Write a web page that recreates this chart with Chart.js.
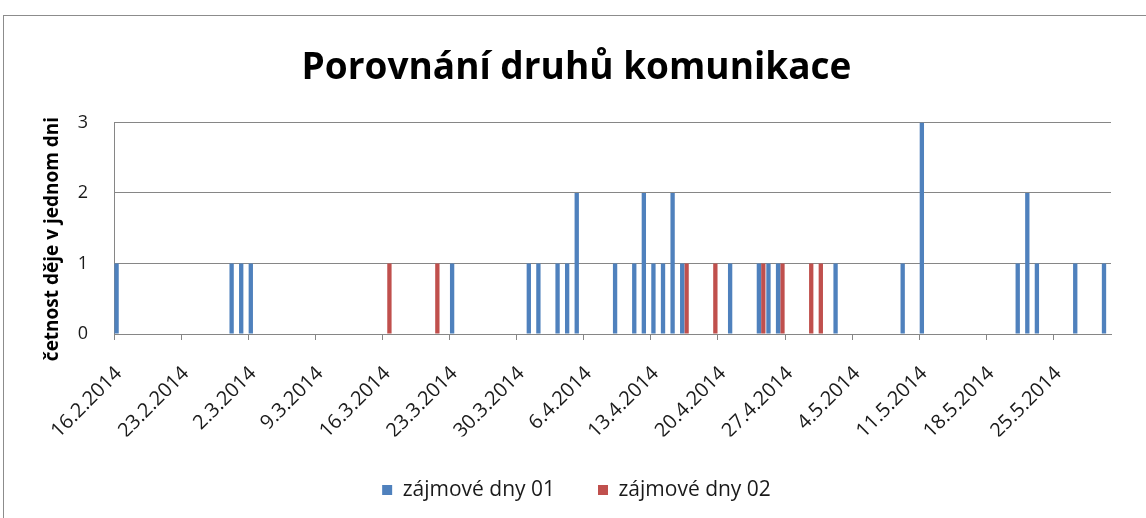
<!DOCTYPE html>
<html>
<head>
<meta charset="utf-8">
<script src="https://cdn.jsdelivr.net/npm/chart.js@4.4.1/dist/chart.umd.min.js"></script>
<style>
  html, body { margin: 0; padding: 0; background: #fff; overflow: hidden; }
  #wrap { position: relative; width: 1146px; height: 518px; }
  #frame { position: absolute; left: 3px; top: 15px; width: 1200px; height: 600px; border: 1px solid #8c8c8c; pointer-events: none; }
  canvas { position: absolute; left: 0; top: 0; }
</style>
</head>
<body>
<div id="wrap">
  <canvas id="graf" width="1146" height="518"></canvas>
  <div id="frame"></div>
</div>
<script>
// dny od 16.2.2014 do 30.5.2014
const dny = [
    '16.2.2014','17.2.2014','18.2.2014','19.2.2014','20.2.2014','21.2.2014','22.2.2014','23.2.2014','24.2.2014','25.2.2014','26.2.2014','27.2.2014','28.2.2014',
    '1.3.2014','2.3.2014','3.3.2014','4.3.2014','5.3.2014','6.3.2014','7.3.2014','8.3.2014','9.3.2014','10.3.2014',
    '11.3.2014','12.3.2014','13.3.2014','14.3.2014','15.3.2014','16.3.2014','17.3.2014','18.3.2014','19.3.2014','20.3.2014',
    '21.3.2014','22.3.2014','23.3.2014','24.3.2014','25.3.2014','26.3.2014','27.3.2014','28.3.2014','29.3.2014','30.3.2014','31.3.2014',
    '1.4.2014','2.4.2014','3.4.2014','4.4.2014','5.4.2014','6.4.2014','7.4.2014','8.4.2014','9.4.2014','10.4.2014',
    '11.4.2014','12.4.2014','13.4.2014','14.4.2014','15.4.2014','16.4.2014','17.4.2014','18.4.2014','19.4.2014','20.4.2014',
    '21.4.2014','22.4.2014','23.4.2014','24.4.2014','25.4.2014','26.4.2014','27.4.2014','28.4.2014','29.4.2014','30.4.2014',
    '1.5.2014','2.5.2014','3.5.2014','4.5.2014','5.5.2014','6.5.2014','7.5.2014','8.5.2014','9.5.2014','10.5.2014',
    '11.5.2014','12.5.2014','13.5.2014','14.5.2014','15.5.2014','16.5.2014','17.5.2014','18.5.2014','19.5.2014','20.5.2014',
    '21.5.2014','22.5.2014','23.5.2014','24.5.2014','25.5.2014','26.5.2014','27.5.2014','28.5.2014','29.5.2014','30.5.2014'
];

// popisky osy x (kazdy tyden)
const popiskyX = ['16.2.2014','23.2.2014','2.3.2014','9.3.2014','16.3.2014','23.3.2014','30.3.2014',
    '6.4.2014','13.4.2014','20.4.2014','27.4.2014','4.5.2014','11.5.2014','18.5.2014','25.5.2014'];

const zajmoveDny01 = [
    1,0,0,0,0,0,0,0,0,0,0,0,1,                       // unor 16-28
    1,1,0,0,0,0,0,0,0,0, 0,0,0,0,0,0,0,0,0,0, 0,0,1,0,0,0,0,0,0,0, 1,   // brezen
    1,0,1,1,2,0,0,0,1,0, 1,2,1,1,2,1,0,0,0,0, 1,0,0,1,1,1,0,0,0,0,      // duben
    0,1,0,0,0,0,0,0,1,0, 3,0,0,0,0,0,0,0,0,0, 1,2,1,0,0,0,1,0,0,1       // kveten
];

const zajmoveDny02 = [
    0,0,0,0,0,0,0,0,0,0,0,0,0,
    0,0,0,0,0,0,0,0,0,0, 0,0,0,0,0,1,0,0,0,0, 1,0,0,0,0,0,0,0,0,0, 0,
    0,0,0,0,0,0,0,0,0,0, 0,0,0,0,0,1,0,0,1,0, 0,0,0,1,0,1,0,0,1,1,
    0,0,0,0,0,0,0,0,0,0, 0,0,0,0,0,0,0,0,0,0, 0,0,0,0,0,0,0,0,0,0
];

const hodnotyY = [0, 1, 2, 3];
const titulekY = 'četnost děje v jednom dni';

const MODRA = '#4F81BD';
const CERVENA = '#C0504D';
const MRIZKA = '#868686';
const PISMO = "'Open Sans', 'DejaVu Sans', sans-serif";

// popisek osy y - v Excelu je posunuty trochu niz nez stred osy
const popisekOsyY = {
    id: 'popisekOsyY',
    afterDraw(chart) {
        const c = chart.ctx;
        c.save();
        c.translate(53, 239);
        c.rotate(-Math.PI / 2);
        c.textAlign = 'center';
        c.textBaseline = 'middle';
        c.fillStyle = '#000';
        c.font = 'bold 19px ' + PISMO;
        c.fillText(titulekY, 0, 0);
        c.restore();
    }
};

const ctx = document.getElementById('graf').getContext('2d');
const graf = new Chart(ctx, {
    type: 'bar',
    data: {
        labels: dny,
        datasets: [
            { label: 'zájmové dny 01', data: zajmoveDny01, backgroundColor: MODRA, borderWidth: 0 },
            { label: 'zájmové dny 02', data: zajmoveDny02, backgroundColor: CERVENA, borderWidth: 0 }
        ]
    },
    plugins: [popisekOsyY],
    options: {
        responsive: false,
        animation: false,
        events: [],
        layout: { padding: { left: 42, right: 35, top: 46, bottom: 7.5 } },
        datasets: { bar: { categoryPercentage: 0.92, barPercentage: 0.98 } },
        plugins: {
            title: {
                display: true,
                text: 'Porovnání druhů komunikace',
                color: '#000',
                font: { family: PISMO, size: 37, weight: 'bold' },
                padding: { top: 0, bottom: 32 }
            },
            legend: {
                position: 'bottom',
                labels: {
                    color: '#1a1a1a',
                    boxWidth: 10,
                    boxHeight: 10,
                    padding: 43,
                    font: { family: PISMO, size: 21 }
                }
            },
            tooltip: { enabled: false }
        },
        scales: {
            x: {
                offset: true,
                afterFit: (s) => { s.height = 102.5; },
                grid: {
                    offset: true,
                    drawOnChartArea: false,
                    drawTicks: true,
                    tickLength: 6,
                    color: (c) => (c.index % 7 === 0 ? MRIZKA : 'transparent')
                },
                border: { display: true, color: MRIZKA },
                ticks: {
                    autoSkip: false,
                    minRotation: 45,
                    maxRotation: 45,
                    padding: 22,
                    color: '#1a1a1a',
                    font: { family: PISMO, size: 20 },
                    callback: function (v, i) {
                        const t = this.getLabelForValue(v);
                        return popiskyX.includes(t) ? t : '';
                    }
                }
            },
            y: {
                min: hodnotyY[0],
                max: hodnotyY[hodnotyY.length - 1],
                afterFit: (s) => { s.width = 72; },
                grid: { color: MRIZKA, drawTicks: false },
                border: { display: true, color: MRIZKA },
                ticks: {
                    stepSize: 1,
                    padding: 26,
                    crossAlign: 'near',
                    color: '#1a1a1a',
                    font: { family: PISMO, size: 18 }
                }
            }
        }
    }
});
</script>
</body>
</html>
